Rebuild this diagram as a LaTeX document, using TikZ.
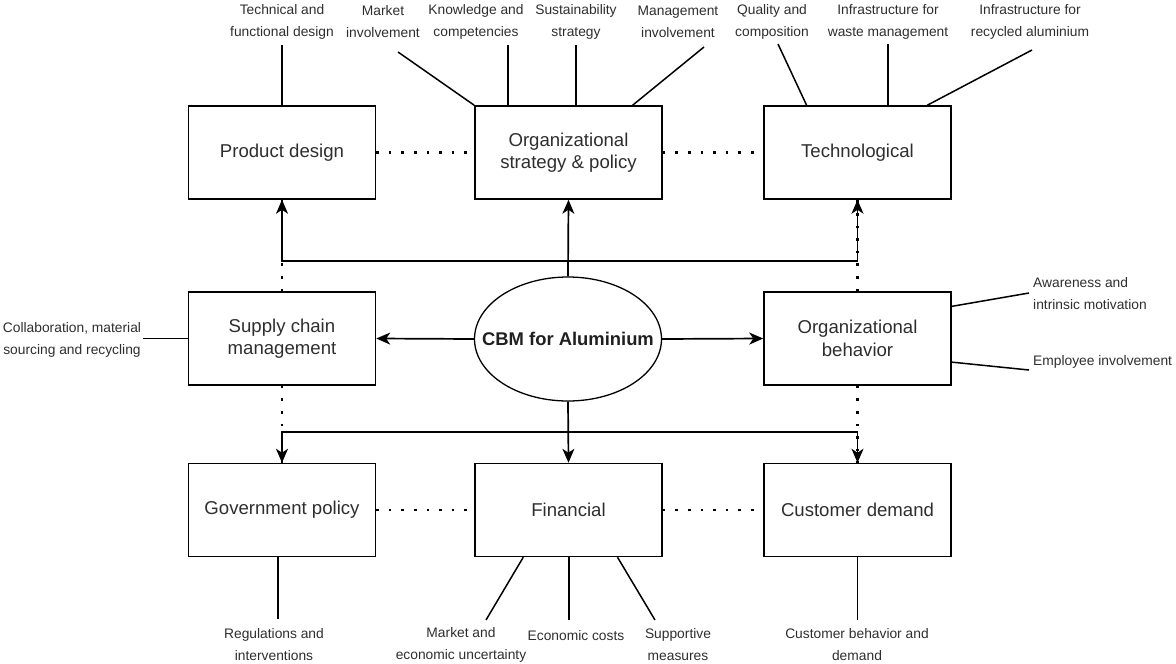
\documentclass[tikz,border=0pt]{standalone}
\usepackage{fontspec}
\setmainfont{Liberation Sans}
\usetikzlibrary{arrows.meta,shapes.geometric,calc}
\begin{document}
\begin{tikzpicture}[x=1pt,y=-1pt,
  txt/.style={text=black!82},
  box/.style={draw, line width=1.5pt, minimum width=187pt, minimum height=93pt,
    align=center, inner sep=0pt, font=\fontsize{18.6}{22.5}\selectfont, txt},
  hub/.style={draw, line width=1.3pt, ellipse, minimum width=187pt, minimum height=124pt,
    inner xsep=-22pt, inner ysep=0pt, font=\fontsize{18.4}{22}\selectfont\bfseries, text=black!88},
  lbl/.style={align=center, inner sep=0pt, font=\fontsize{13.8}{22}\selectfont, txt},
  link/.style={line width=1.5pt},
  arr/.style={line width=1.7pt, -{Stealth[length=14pt,width=12pt,inset=4pt]}},
  dots/.style={line width=2.3pt, dash pattern=on 2.6pt off 10pt}
]
\useasboundingbox (0,0) rectangle (1176,664);

% main factor boxes
\node[box] (pd) at (282,152.5)   {Product design};
\node[box] (os) at (568.5,152.5) {Organizational\\strategy \& policy};
\node[box] (tc) at (857.5,152.5) {Technological};
\node[box] (sc) at (282,338.5)   {Supply chain\\management};
\node[hub] (el) at (568,339)     {CBM for Aluminium};
\node[box] (ob) at (857.5,338.5) {Organizational\\behavior};
\node[box] (gp) at (282,510)     {Government policy};
\node[box] (fi) at (568.5,510)   {Financial};
\node[box] (cd) at (857.5,510)   {Customer demand};

% sub-factor labels
\node[lbl] (l1)  at (282,22)  {Technical and\\functional design};
\node[lbl] (l2)  at (383,22)  {Market\\involvement};
\node[lbl] (l3)  at (476,22)  {Knowledge and\\competencies};
\node[lbl] (l4)  at (576,22)  {Sustainability\\strategy};
\node[lbl] (l5)  at (678,22)  {Management\\involvement};
\node[lbl] (l6)  at (772,22)  {Quality and\\composition};
\node[lbl] (l7)  at (888,22)  {Infrastructure for\\waste management};
\node[lbl] (l8)  at (1030,22) {Infrastructure for\\recycled aluminium};
\node[lbl] (l9)  at (72,340)  {Collaboration, material\\sourcing and recycling};
\node[lbl, anchor=west, align=left] (l10) at (1033,294) {Awareness and\\intrinsic motivation};
\node[lbl, anchor=west] (l11) at (1033,362) {Employee involvement};
\node[lbl] (l12) at (274,645) {Regulations and\\interventions};
\node[lbl] (l13) at (461,645) {Market and\\economic uncertainty};
\node[lbl] (l14) at (576,636) {Economic costs};
\node[lbl] (l15) at (678,645) {Supportive\\measures};
\node[lbl] (l16) at (857,645) {Customer behavior and\\demand};

% free ends of the label leaders
\coordinate (e1)  at (282,45);
\coordinate (e2)  at (398,52);
\coordinate (e3)  at (508,45);
\coordinate (e4)  at (576,45);
\coordinate (e5)  at (704,47);
\coordinate (e6)  at (778,44);
\coordinate (e7)  at (888,44);
\coordinate (e8)  at (1032,50);
\coordinate (e9)  at (143,338.5);
\coordinate (e10) at (1029,293);
\coordinate (e11) at (1029,370);
\coordinate (e12) at (278,619);
\coordinate (e13) at (486,620);
\coordinate (e14) at (569,620);
\coordinate (e15) at (655,620);
\coordinate (e16) at (857.5,620);

% leaders
\draw[link] (e1) -- (pd.north);
\draw[link] (e2) -- (os.north west);
\draw[link] (e3) -- (e3 |- os.north);
\draw[link] (e4) -- (e4 |- os.north);
\draw[link] (e5) -- ($(os.north west)!0.84!(os.north east)$);
\draw[link] (e6) -- ($(tc.north west)!0.23!(tc.north east)$);
\draw[link] (e7) -- (e7 |- tc.north);
\draw[link] (e8) -- ($(tc.north west)!0.87!(tc.north east)$);
\draw[link] (e9) -- (sc.west);
\draw[link] (e10) -- ($(ob.north east)!0.16!(ob.south east)$);
\draw[link] (e11) -- ($(ob.north east)!0.75!(ob.south east)$);
\draw[link] (e12) -- (e12 |- gp.south);
\draw[link] (e13) -- ($(fi.south west)!0.26!(fi.south east)$);
\draw[link] (e14) -- (e14 |- fi.south);
\draw[link] (e15) -- ($(fi.south west)!0.76!(fi.south east)$);
\draw[link] (e16) -- (cd.south);

% dotted relations between neighbouring factors
\draw[dots] (pd.east) -- (os.west);
\draw[dots] (os.east) -- (tc.west);
\draw[dots] (gp.east) -- (fi.west);
\draw[dots] (fi.east) -- (cd.west);
\draw[dots] (sc.north) -- (pd.south);
\draw[dots] (sc.south) -- (gp.north);
\draw[dots] (ob.north) -- (tc.south);
\draw[dots] (ob.south) -- (cd.north);

% arrows from the hub
\coordinate (jt) at (568,261);
\coordinate (jb) at (568,432);
\draw[arr] (el.north) -- (os.south);
\draw[arr] (el.south) -- (fi.north);
\draw[arr] (el.west) -- (sc.east);
\draw[arr] (el.east) -- (ob.west);
\draw[arr] (jt) -| (pd.south);
\draw[arr] (jt) -| (tc.south);
\draw[arr] (jb) -| (gp.north);
\draw[arr] (jb) -| (cd.north);
\end{tikzpicture}
\end{document}
